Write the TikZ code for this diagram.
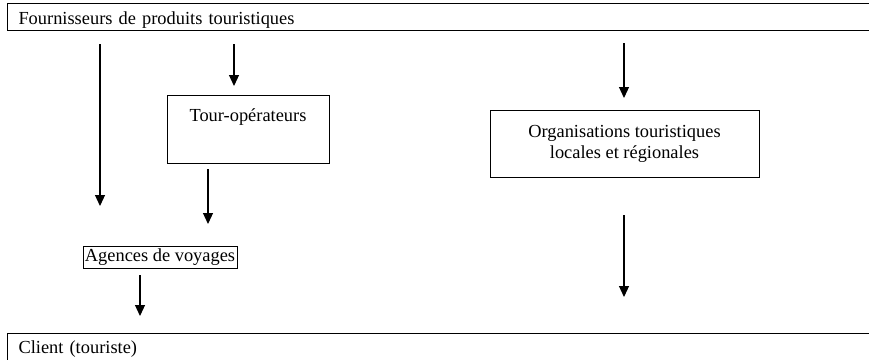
\documentclass[tikz,border=0pt]{standalone}
\usepackage{fontspec}
\setmainfont{Liberation Serif}
\usetikzlibrary{arrows.meta}
\begin{document}
\begin{tikzpicture}[x=1pt,y=-1pt,
  every node/.style={font=\fontsize{18.4}{21}\selectfont},
  bar/.style={draw, line width=1pt, inner ysep=0pt, inner xsep=11pt, text width=878pt, align=left, anchor=north west},
  boxed/.style={draw, line width=1pt},
  arr/.style={line width=1.2pt, -{Triangle[width=10pt,length=11pt]}}]
\useasboundingbox (0,0) rectangle (869,359);
\clip (0,0) rectangle (869,359);
\node[bar, text height=21pt, text depth=6pt] (fourn) at (7,3) {Fournisseurs de produits touristiques};
\node[bar, text height=20pt, text depth=8pt] (client) at (7,333) {Client (touriste)};
\node[boxed, anchor=north, inner ysep=0pt, text height=26pt, text depth=42pt, minimum width=162pt] (tour) at (248,95) {Tour-opérateurs};
\node[boxed, align=center, minimum width=269pt, minimum height=67pt] (org) at (624.5,143.5) {Organisations touristiques\\locales et régionales};
\node[boxed, inner sep=1pt, minimum height=22pt, minimum width=154pt] (agen) at (160,257) {Agences de voyages};
\coordinate (a1s) at (100,44);  \coordinate (a1e) at (100,206);
\coordinate (a2s) at (234,44);  \coordinate (a2e) at (234,86);
\coordinate (a3s) at (208,169); \coordinate (a3e) at (208,224);
\coordinate (a4s) at (140,275); \coordinate (a4e) at (140,316);
\coordinate (a5s) at (624,43);  \coordinate (a5e) at (624,98);
\coordinate (a6s) at (624,215); \coordinate (a6e) at (624,297);
\draw[arr] (a1s) -- (a1e);
\draw[arr] (a2s) -- (a2e);
\draw[arr] (a3s) -- (a3e);
\draw[arr] (a4s) -- (a4e);
\draw[arr] (a5s) -- (a5e);
\draw[arr] (a6s) -- (a6e);
\end{tikzpicture}
\end{document}
